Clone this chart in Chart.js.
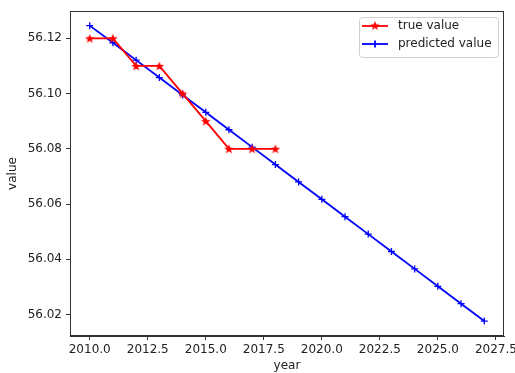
<!DOCTYPE html>
<html>
<head>
<meta charset="utf-8">
<script src="https://cdn.jsdelivr.net/npm/chart.js@4.4.0/dist/chart.umd.min.js"></script>
<style>
  body { margin: 0; background: #fff; }
  canvas { display: block; }
</style>
</head>
<body>
<canvas id="chart" width="515" height="373"></canvas>
<script>
const trueYears = [2010, 2011, 2012, 2013, 2014, 2015, 2016, 2017, 2018];
const trueValues = [56.12, 56.12, 56.11, 56.11, 56.10, 56.09, 56.08, 56.08, 56.08];
const predYears = [2010, 2011, 2012, 2013, 2014, 2015, 2016, 2017, 2018,
  2019, 2020, 2021, 2022, 2023, 2024, 2025, 2026, 2027];
const predValues = [56.1246, 56.1184, 56.1121, 56.1058, 56.0995, 56.0932, 56.0869, 56.0806, 56.0743,
  56.0680, 56.0617, 56.0554, 56.0491, 56.0428, 56.0365, 56.0302, 56.0239, 56.0176];
const xTicks = [2010, 2012.5, 2015, 2017.5, 2020, 2022.5, 2025, 2027.5];
const yTicks = [56.02, 56.04, 56.06, 56.08, 56.10, 56.12];

const textColor = "#222";
const font = { family: "DejaVu Sans", size: 12 };

// filled star like matplotlib's '*' marker
function makeStar(size, color) {
  const c = document.createElement("canvas");
  c.width = size;
  c.height = size;
  const g = c.getContext("2d");
  const cx = size / 2, cy = size / 2 + 0.5, R = size / 2, r = R * 0.42;
  g.beginPath();
  for (let i = 0; i < 10; i++) {
    const rad = i % 2 === 0 ? R : r;
    const a = -Math.PI / 2 + i * Math.PI / 5;
    g.lineTo(cx + rad * Math.cos(a), cy + rad * Math.sin(a));
  }
  g.closePath();
  g.fillStyle = color;
  g.fill();
  return c;
}
const starImg = makeStar(10, "red");

const framePlugin = {
  id: "frame",
  beforeDraw(chart) {
    const ctx = chart.ctx;
    ctx.save();
    ctx.fillStyle = "#fff";
    ctx.fillRect(0, 0, chart.width, chart.height);
    ctx.restore();
  },
  afterDraw(chart) {
    const a = chart.chartArea;
    const ctx = chart.ctx;
    ctx.save();
    ctx.strokeStyle = "#333";
    ctx.lineWidth = 1;
    ctx.strokeRect(Math.round(a.left) + 0.5, Math.round(a.top) + 0.5,
      Math.round(a.right - a.left) - 1, Math.round(a.bottom - a.top) - 1);

    // legend box
    const bx = 359, by = 17, bw = 139, bh = 40;
    ctx.fillStyle = "rgba(255,255,255,0.8)";
    ctx.strokeStyle = "#d0d0d0";
    ctx.beginPath();
    ctx.roundRect(bx + 0.5, by + 0.5, bw, bh, 3);
    ctx.fill();
    ctx.stroke();
    ctx.font = "12px 'DejaVu Sans'";
    ctx.textBaseline = "middle";
    chart.data.datasets.forEach((ds, i) => {
      const y = 26 + i * 18;
      ctx.strokeStyle = ds.borderColor;
      ctx.lineWidth = 1.8;
      ctx.beginPath();
      ctx.moveTo(362, y);
      ctx.lineTo(388, y);
      ctx.stroke();
      if (i === 0) {
        ctx.drawImage(starImg, 370, y - 5.5);
      } else {
        ctx.beginPath();
        ctx.moveTo(375, y - 3.5);
        ctx.lineTo(375, y + 3.5);
        ctx.stroke();
      }
      ctx.fillStyle = textColor;
      ctx.fillText(ds.label, 398, y);
    });
    ctx.restore();
  }
};

new Chart(document.getElementById("chart"), {
  type: "line",
  data: {
    datasets: [
      {
        label: "true value",
        data: trueYears.map((x, i) => ({ x: x, y: trueValues[i] })),
        borderColor: "red",
        backgroundColor: "red",
        borderWidth: 1.8,
        pointStyle: starImg,
        pointRadius: 5,
        tension: 0
      },
      {
        label: "predicted value",
        data: predYears.map((x, i) => ({ x: x, y: predValues[i] })),
        borderColor: "blue",
        backgroundColor: "blue",
        borderWidth: 1.8,
        pointStyle: "cross",
        pointRadius: 3.5,
        pointBorderWidth: 1.3,
        tension: 0
      }
    ]
  },
  options: {
    responsive: false,
    animation: false,
    devicePixelRatio: 1,
    layout: { padding: { left: 0, top: 11, right: 11, bottom: 0 } },
    plugins: {
      legend: { display: false },
      tooltip: { enabled: false }
    },
    scales: {
      x: {
        type: "linear",
        min: 2009.15,
        max: 2027.85,
        afterBuildTicks: (s) => { s.ticks = xTicks.map(v => ({ value: v })); },
        afterFit: (s) => { s.height = 37; s.paddingLeft = 0; s.paddingRight = 0; },
        grid: { drawOnChartArea: false, tickLength: 4, color: "#333" },
        border: { display: true, color: "#333" },
        ticks: {
          color: textColor,
          font: font,
          padding: 3,
          maxRotation: 0,
          autoSkip: false,
          callback: (v) => v.toFixed(1)
        },
        title: { display: true, text: "year", color: textColor, font: font, padding: 0 }
      },
      y: {
        type: "linear",
        min: 56.0122,
        max: 56.1299,
        afterBuildTicks: (s) => { s.ticks = yTicks.map(v => ({ value: v })); },
        afterFit: (s) => { s.width = 70; s.paddingTop = 0; s.paddingBottom = 0; },
        grid: { drawOnChartArea: false, tickLength: 4, color: "#333" },
        border: { display: true, color: "#333" },
        ticks: {
          color: textColor,
          font: font,
          padding: 4,
          autoSkip: false,
          callback: (v) => v.toFixed(2)
        },
        title: { display: true, text: "value", color: textColor, font: font, padding: { top: 6, bottom: 0 } }
      }
    }
  },
  plugins: [framePlugin]
});
</script>
</body>
</html>
